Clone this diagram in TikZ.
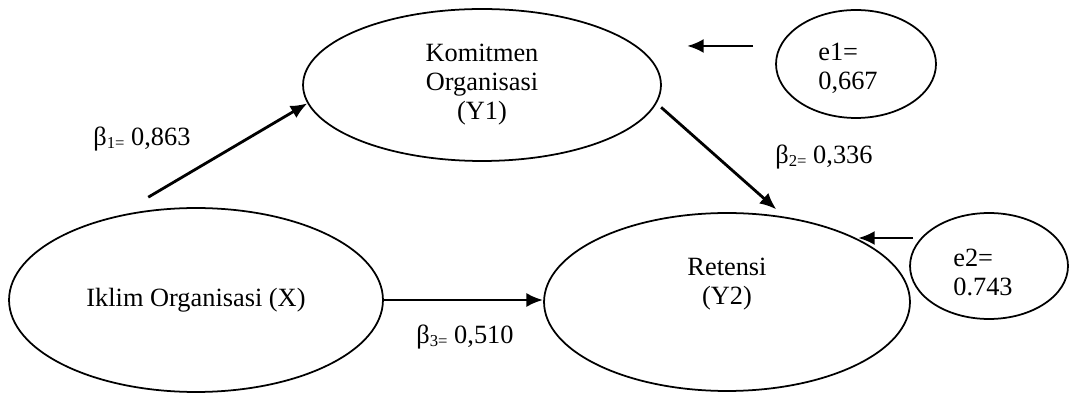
\documentclass[tikz,border=0pt]{standalone}
\usepackage{fontspec}
\setmainfont{Liberation Serif}
\usetikzlibrary{shapes.geometric,arrows.meta}
\newcommand{\bcoef}[2]{β\raisebox{-1.5pt}{\fontsize{9.5}{10}\selectfont #1=}~#2}
\tikzset{
  latent/.style={ellipse,draw,line width=1pt,inner sep=0pt,align=center},
  txt/.style={align=center,inner sep=0pt},
  effect/.style={-{Latex[length=9.5pt,width=8pt]},line width=1.6pt}
}
\begin{document}
\begin{tikzpicture}[x=0.02cm,y=-0.02cm,font=\fontsize{15}{16.5}\selectfont]
\useasboundingbox (0,0) rectangle (1070,394);
% variables
\node[latent,minimum width=7.16cm,minimum height=3.04cm] (Y1) at (482,85) {Komitmen\\Organisasi\\(Y1)};
\node[latent,minimum width=7.48cm,minimum height=3.68cm] (X) at (196,300) {Iklim Organisasi (X)};
\node[latent,minimum width=7.32cm,minimum height=3.56cm] (Y2) at (727,302) {};
\node[txt] (Y2txt) at (727,284) {Retensi\\(Y2)};
% residuals
\node[latent,minimum width=3.2cm,minimum height=2.16cm] (e1) at (856,64) {};
\node[txt,align=left] (e1txt) at (848,68) {e1=\\0,667};
\node[latent,minimum width=3.16cm,minimum height=2.12cm] (e2) at (989,266) {};
\node[txt,align=left] (e2txt) at (983,272) {e2=\\0.743};
\coordinate (e1tail) at (753,46);
\coordinate (e1head) at (687,46);
\coordinate (e2tail) at (913,238);
\coordinate (e2head) at (858,238);
% paths
\draw[effect] ([yshift=0.26cm]X.118) -- (Y1.186);
\draw[effect,shorten <=0.12cm,shorten >=0.22cm] (Y1.-6) -- (Y2.56);
\draw[effect] (X.east) -- (X.east -| Y2.west);
\draw[effect] (e1tail) -- (e1head);
\draw[effect] (e2tail) -- (e2head);
% coefficients
\node[txt] (b1) at (142,139) {\bcoef{1}{0,863}};
\node[txt] (b2) at (824,157) {\bcoef{2}{0,336}};
\node[txt] (b3) at (465,337) {\bcoef{3}{0,510}};
\end{tikzpicture}
\end{document}
